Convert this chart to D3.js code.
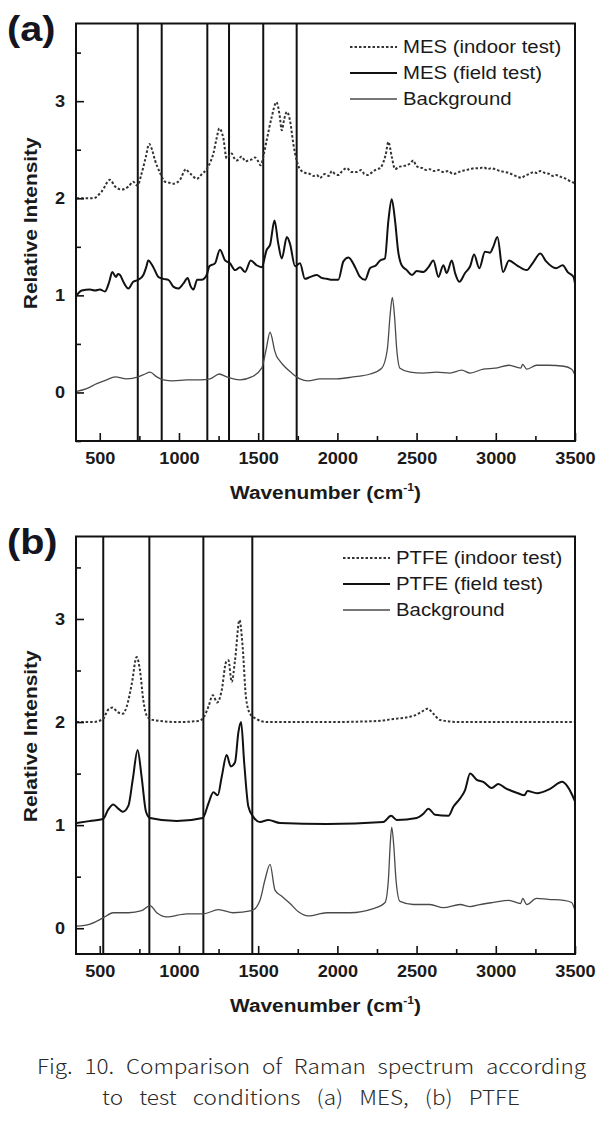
<!DOCTYPE html>
<html><head><meta charset="utf-8">
<script src="https://cdn.jsdelivr.net/npm/d3@7"></script>
<style>body{margin:0;background:#fff}svg{display:block}</style>
</head><body>
<svg id="c" width="614" height="1122"></svg>
<script>
// ---------- DATA ----------
const xTickValues = [500, 1000, 1500, 2000, 2500, 3000, 3500];
const yTickValues = [0, 1, 2, 3];
const legendA = ["MES (indoor test)", "MES (field test)", "Background"];
const legendB = ["PTFE (indoor test)", "PTFE (field test)", "Background"];
const markerLinesA = [740, 891, 1179, 1316, 1532, 1743];
const markerLinesB = [522, 813, 1154, 1463];

const mesIndoor = [[354,2.00],[459,2.00],[512,2.07],[565,2.19],[597,2.12],[638,2.09],[681,2.12],[711,2.17],[737,2.13],[765,2.26],[790,2.42],[812,2.56],[830,2.50],[849,2.39],[881,2.26],[912,2.17],[940,2.16],[964,2.15],[1006,2.19],[1044,2.30],[1060,2.27],[1081,2.24],[1112,2.20],[1145,2.25],[1175,2.30],[1200,2.38],[1217,2.46],[1238,2.62],[1255,2.72],[1280,2.62],[1301,2.41],[1333,2.46],[1350,2.41],[1365,2.39],[1396,2.43],[1420,2.38],[1438,2.39],[1460,2.40],[1480,2.42],[1500,2.38],[1516,2.34],[1535,2.45],[1554,2.60],[1586,2.84],[1615,2.99],[1635,2.86],[1649,2.70],[1665,2.82],[1681,2.89],[1701,2.80],[1722,2.56],[1743,2.39],[1760,2.31],[1775,2.28],[1800,2.26],[1827,2.25],[1850,2.23],[1870,2.24],[1890,2.21],[1920,2.25],[1945,2.23],[1965,2.28],[1985,2.25],[2006,2.24],[2030,2.28],[2059,2.31],[2090,2.27],[2122,2.27],[2150,2.29],[2170,2.25],[2195,2.24],[2220,2.27],[2249,2.30],[2270,2.31],[2290,2.37],[2305,2.45],[2322,2.58],[2343,2.43],[2364,2.30],[2385,2.32],[2406,2.33],[2438,2.34],[2460,2.36],[2480,2.39],[2495,2.34],[2511,2.32],[2540,2.31],[2560,2.29],[2584,2.30],[2610,2.28],[2640,2.29],[2669,2.27],[2700,2.28],[2730,2.25],[2754,2.26],[2780,2.28],[2810,2.29],[2838,2.30],[2870,2.31],[2900,2.31],[2921,2.32],[2950,2.30],[2970,2.31],[2995,2.30],[3030,2.28],[3060,2.27],[3083,2.26],[3110,2.24],[3140,2.22],[3160,2.21],[3183,2.23],[3210,2.25],[3240,2.27],[3260,2.26],[3281,2.28],[3310,2.26],[3340,2.25],[3360,2.23],[3380,2.24],[3410,2.22],[3430,2.21],[3454,2.19],[3475,2.17],[3491,2.16],[3500,2.15]];

const mesField = [[354,1.00],[386,1.05],[438,1.06],[470,1.05],[501,1.06],[533,1.04],[560,1.14],[579,1.24],[602,1.19],[615,1.22],[628,1.21],[649,1.14],[681,1.07],[711,1.14],[743,1.16],[775,1.21],[795,1.30],[806,1.36],[838,1.29],[870,1.19],[901,1.17],[933,1.16],[964,1.09],[995,1.07],[1027,1.12],[1055,1.18],[1072,1.10],[1091,1.06],[1115,1.16],[1143,1.16],[1175,1.21],[1192,1.30],[1227,1.33],[1259,1.47],[1291,1.36],[1322,1.33],[1354,1.26],[1386,1.29],[1417,1.24],[1453,1.36],[1490,1.31],[1522,1.29],[1554,1.47],[1575,1.52],[1603,1.77],[1627,1.53],[1649,1.38],[1681,1.60],[1701,1.53],[1733,1.30],[1764,1.33],[1795,1.17],[1830,1.19],[1870,1.21],[1900,1.18],[1933,1.17],[1970,1.16],[2006,1.16],[2038,1.35],[2070,1.39],[2112,1.29],[2143,1.19],[2175,1.16],[2206,1.28],[2244,1.31],[2270,1.36],[2300,1.38],[2322,1.77],[2343,1.99],[2364,1.77],[2384,1.45],[2406,1.31],[2438,1.26],[2470,1.21],[2501,1.25],[2543,1.24],[2575,1.29],[2606,1.36],[2638,1.19],[2669,1.31],[2690,1.23],[2722,1.36],[2743,1.23],[2770,1.14],[2806,1.23],[2838,1.30],[2863,1.42],[2896,1.28],[2932,1.45],[2964,1.44],[2984,1.50],[3010,1.60],[3046,1.24],[3083,1.36],[3133,1.31],[3195,1.26],[3232,1.33],[3281,1.43],[3318,1.35],[3380,1.28],[3422,1.31],[3454,1.24],[3491,1.19],[3500,1.12]];

const bgA = [[354,0.01],[417,0.04],[481,0.09],[544,0.13],[597,0.16],[670,0.14],[743,0.16],[786,0.19],[817,0.21],[860,0.16],[901,0.13],[964,0.12],[1049,0.13],[1133,0.13],[1196,0.14],[1255,0.19],[1301,0.16],[1386,0.13],[1459,0.16],[1522,0.25],[1550,0.44],[1575,0.62],[1606,0.42],[1617,0.37],[1634,0.33],[1659,0.28],[1712,0.20],[1764,0.14],[1816,0.12],[1890,0.14],[1995,0.14],[2100,0.16],[2206,0.19],[2280,0.25],[2315,0.44],[2333,0.80],[2347,0.98],[2360,0.80],[2375,0.44],[2395,0.25],[2459,0.21],[2543,0.20],[2627,0.21],[2711,0.20],[2785,0.23],[2838,0.20],[2921,0.24],[2995,0.25],[3083,0.28],[3157,0.25],[3170,0.29],[3195,0.24],[3257,0.28],[3331,0.28],[3430,0.27],[3479,0.24],[3500,0.18]];

const ptfeIndoor = [[354,2.00],[459,2.00],[521,2.03],[553,2.12],[581,2.14],[610,2.10],[645,2.08],[670,2.15],[702,2.37],[733,2.63],[754,2.50],[775,2.21],[801,2.05],[838,2.02],[986,2.00],[1122,2.01],[1158,2.05],[1186,2.15],[1213,2.26],[1242,2.19],[1270,2.31],[1297,2.58],[1312,2.60],[1333,2.39],[1354,2.60],[1382,2.99],[1402,2.73],[1423,2.24],[1449,2.08],[1490,2.03],[1554,2.00],[1933,2.00],[2249,2.01],[2354,2.03],[2480,2.06],[2532,2.10],[2568,2.13],[2606,2.08],[2648,2.02],[2775,2.00],[3500,2.00]];

const ptfeField = [[354,1.02],[438,1.04],[521,1.06],[553,1.15],[585,1.20],[617,1.16],[645,1.13],[681,1.19],[708,1.44],[739,1.73],[764,1.47],[792,1.13],[817,1.07],[986,1.04],[1150,1.07],[1186,1.21],[1217,1.32],[1245,1.29],[1270,1.47],[1301,1.68],[1327,1.57],[1354,1.61],[1375,1.90],[1392,2.00],[1412,1.60],[1438,1.18],[1469,1.08],[1511,1.03],[1564,1.05],[1638,1.02],[1933,1.01],[2290,1.03],[2339,1.09],[2375,1.05],[2501,1.07],[2543,1.11],[2575,1.16],[2617,1.10],[2701,1.09],[2733,1.18],[2775,1.26],[2806,1.34],[2838,1.50],[2880,1.44],[2921,1.42],[2974,1.36],[3016,1.40],[3060,1.36],[3140,1.31],[3180,1.29],[3200,1.33],[3260,1.31],[3340,1.35],[3420,1.42],[3450,1.38],[3480,1.30],[3500,1.23]];

const bgB = [[354,0.02],[438,0.04],[521,0.10],[585,0.15],[681,0.15],[764,0.17],[817,0.22],[860,0.15],[922,0.11],[1049,0.14],[1154,0.14],[1249,0.18],[1343,0.15],[1459,0.17],[1511,0.27],[1543,0.47],[1575,0.62],[1606,0.37],[1649,0.31],[1701,0.24],[1754,0.16],[1816,0.12],[1933,0.15],[2080,0.15],[2227,0.19],[2301,0.25],[2322,0.47],[2333,0.80],[2343,0.98],[2356,0.80],[2370,0.47],[2395,0.26],[2480,0.23],[2584,0.23],[2669,0.20],[2775,0.23],[2838,0.21],[2900,0.23],[2984,0.25],[3083,0.27],[3157,0.24],[3170,0.29],[3195,0.23],[3257,0.29],[3331,0.28],[3430,0.27],[3479,0.25],[3500,0.17]];

const captionLines = ["Fig. 10. Comparison of Raman spectrum according", "to test conditions (a) MES, (b) PTFE"];

// ---------- DRAW ----------
const svg = d3.select("#c");
const FONT = "'Liberation Sans', Arial, sans-serif";
const SX = 1.1;

const styles = [
  {stroke:"#333", width:2, dash:"2.5,2"},
  {stroke:"#111", width:2, dash:null},
  {stroke:"#4a4a4a", width:1.3, dash:null}
];

function panel(cfg){
  const {top, bottom, yDomain, series, markers, legend, label, legendX, legendY, legendStep} = cfg;
  const left = 76, right = 575;
  const x = d3.scaleLinear().domain([350, 3500]).range([left, right]);
  const y = d3.scaleLinear().domain(yDomain).range([bottom, top]);
  const g = svg.append("g");
  const clipId = "clip" + label;
  svg.append("clipPath").attr("id", clipId).append("rect")
    .attr("x", left).attr("y", top).attr("width", right-left).attr("height", bottom-top);

  g.selectAll("line.mk").data(markers).join("line").attr("class","mk")
    .attr("x1", d=>x(d)).attr("x2", d=>x(d)).attr("y1", top).attr("y2", bottom)
    .attr("stroke", "#111").attr("stroke-width", 2);

  const line = d3.line().x(d=>x(d[0])).y(d=>y(d[1])).curve(d3.curveMonotoneX);
  const cg = g.append("g").attr("clip-path", `url(#${clipId})`);
  series.forEach((s,i)=>{
    cg.append("path").attr("d", line(s)).attr("fill","none")
      .attr("stroke", styles[i].stroke).attr("stroke-width", styles[i].width)
      .attr("stroke-dasharray", styles[i].dash).attr("stroke-linejoin","round");
  });

  const xMinor = d3.range(500, 3501, 250).filter(v=>v%500!==0);
  const yMinor = d3.range(Math.ceil(yDomain[0]*2)/2, yDomain[1], 0.5).filter(v=>Math.abs(v%1)>0.1);
  g.append("g").attr("transform",`translate(0,${bottom})`)
    .call(d3.axisBottom(x).tickValues(xTickValues).tickSizeInner(-8).tickSizeOuter(0).tickPadding(11).tickFormat(d3.format("d")));
  g.append("g").attr("transform",`translate(0,${bottom})`)
    .call(d3.axisBottom(x).tickValues(xMinor).tickSizeInner(-5).tickSizeOuter(0).tickFormat(""));
  g.append("g").attr("transform",`translate(${left},0)`)
    .call(d3.axisLeft(y).tickValues(yTickValues).tickSizeInner(-8).tickSizeOuter(0).tickPadding(10).tickFormat(d3.format("d")));
  g.append("g").attr("transform",`translate(${left},0)`)
    .call(d3.axisLeft(y).tickValues(yMinor).tickSizeInner(-5).tickSizeOuter(0).tickFormat(""));
  g.selectAll(".domain").remove();
  g.selectAll(".tick line").attr("stroke","#111").attr("stroke-width",1.6);
  g.selectAll(".tick text").attr("font-family", FONT).attr("font-weight","bold")
    .attr("font-size", 16.5).attr("fill","#1a1a1a").attr("transform", `scale(${SX},1)`);

  g.append("rect").attr("x", left).attr("y", top).attr("width", right-left).attr("height", bottom-top)
    .attr("fill","none").attr("stroke","#111").attr("stroke-width",2);

  const xt = g.append("text").attr("transform",`translate(${(left+right)/2},${bottom+58}) scale(${SX},1)`)
    .attr("text-anchor","middle").attr("font-family",FONT).attr("font-weight","bold")
    .attr("font-size",19).attr("fill","#1a1a1a");
  xt.append("tspan").text("Wavenumber (cm");
  xt.append("tspan").text("-1").attr("font-size",11).attr("dy",-8);
  xt.append("tspan").text(")").attr("dy",8);
  g.append("text").attr("transform",`translate(37,${(top+bottom)/2-9}) rotate(-90) scale(${SX},1)`)
    .attr("text-anchor","middle").attr("font-family",FONT).attr("font-weight","bold")
    .attr("font-size",19).attr("fill","#1a1a1a").text("Relative Intensity");

  g.append("text").attr("transform",`translate(7,${top+17}) scale(${SX},1)`)
    .attr("font-family",FONT).attr("font-weight","bold").attr("font-size",36)
    .attr("fill","#15151f").text(`(${label})`);

  legend.forEach((t,i)=>{
    const yy = legendY + i*legendStep;
    g.append("line").attr("x1", legendX).attr("x2", legendX+47).attr("y1", yy).attr("y2", yy)
      .attr("stroke", styles[i].stroke).attr("stroke-width", styles[i].width)
      .attr("stroke-dasharray", styles[i].dash);
    g.append("text").attr("transform",`translate(${legendX+53},${yy}) scale(${SX},1)`)
      .attr("dy","0.35em").attr("font-family",FONT).attr("font-size",18.5).attr("fill","#1a1a1a").text(t);
  });
}

panel({top:23.5, bottom:441, yDomain:[-0.5,3.8], series:[mesIndoor, mesField, bgA],
  markers:markerLinesA, legend:legendA, label:"a", legendX:350, legendY:47, legendStep:26});
panel({top:536.5, bottom:954, yDomain:[-0.25,3.8], series:[ptfeIndoor, ptfeField, bgB],
  markers:markerLinesB, legend:legendB, label:"b", legendX:343, legendY:558, legendStep:26});

// caption: slightly wide glyphs, justified by widening word gaps
const CAP_SX = 1.1;
const capSpec = [{x:37, y:1074, w:549}, {x:102, y:1105, w:418}];
captionLines.forEach((t,i)=>{
  const el = svg.append("text")
    .attr("transform", `translate(${capSpec[i].x},${capSpec[i].y}) scale(${CAP_SX},1)`)
    .attr("font-family","'Noto Sans CJK KR', 'Noto Sans', sans-serif").attr("font-weight",300)
    .attr("font-size",20.5).attr("fill","#2a2a2a").text(t);
  const natural = el.node().getComputedTextLength();
  const gaps = (t.match(/ /g) || []).length;
  el.attr("word-spacing", Math.max(0, (capSpec[i].w / CAP_SX - natural) / gaps));
});
</script>
</body></html>
